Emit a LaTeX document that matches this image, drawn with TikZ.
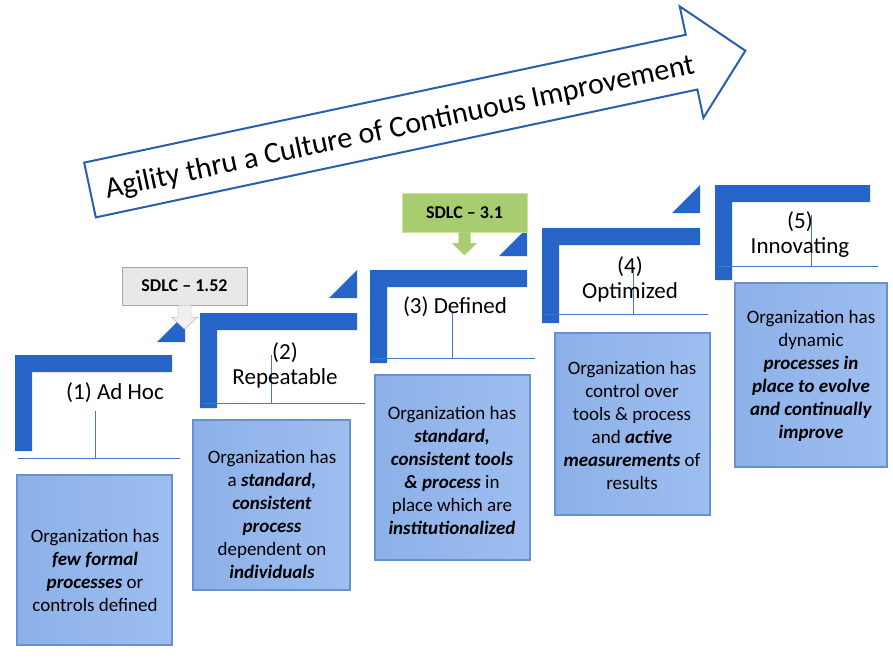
\documentclass[tikz,border=0pt]{standalone}
\usepackage{fontspec}
\setmainfont{Carlito}
\definecolor{stepblue}{RGB}{38,100,200}
\definecolor{thinblue}{RGB}{70,120,200}
\definecolor{boxblue}{RGB}{140,176,232}
\definecolor{boxlight}{RGB}{158,190,240}
\definecolor{boxedge}{RGB}{105,145,205}
\definecolor{arrowblue}{RGB}{40,95,175}
\definecolor{sdlcgreen}{RGB}{168,204,112}
\definecolor{sdlcgreenedge}{RGB}{205,228,150}
\definecolor{sdlcgray}{RGB}{232,232,232}
\newcommand{\emphb}[1]{\textbf{\textit{#1}}}
\tikzset{
  level/.style={font=\fontsize{23}{25}\selectfont, align=center, inner sep=0},
  descbox/.style={draw=boxedge, line width=1.2, left color=boxblue, right color=boxlight, inner sep=0},
  desc/.style={font=\fontsize{19}{23}\selectfont, align=center, inner sep=0},
  sdlc/.style={font=\fontsize{18}{20}\selectfont\bfseries, minimum width=125, minimum height=38, inner sep=0},
}
\begin{document}
\begin{tikzpicture}[x=1pt,y=-1pt]
\useasboundingbox (0,0) rectangle (893,661);

% big arrow across the top
\begin{scope}[shift={(90,190)},rotate=12]
\draw[arrowblue,line width=2,fill=white,line join=miter] (0,-28) -- (615,-28) -- (615,-57) -- (670,0) -- (615,57) -- (615,28) -- (0,28) -- cycle;
\node[font=\fontsize{30}{32}\selectfont, rotate=12, inner sep=0] (title) at (316,4) {Agility thru a Culture of Continuous Improvement};
\end{scope}

% stairs: left x / top y / right x / foot of upright / rule y / stem x / stem top
\foreach \lx/\ty/\rx/\by/\ry/\sx/\st in {15/355/172/451/458/95/411, 200/313/357/408/403/271/355, 370/270/527/363/358/452/312, 542/228/700/323/314/633/267, 715/185/870/280/266/811/215}{
  \fill[stepblue] (\lx,\ty) -- (\rx,\ty) -- (\rx,\ty+17) -- (\lx+17,\ty+17) -- (\lx+17,\by) -- (\lx,\by) -- cycle;
  \draw[thinblue] (\lx+3,\ry) -- (\rx+8,\ry);
  \draw[thinblue] (\sx,\st) -- (\sx,\ry);
}
\foreach \tx/\tb in {185/342, 357/298, 527/256, 700/213}
  \fill[stepblue] (\tx-28,\tb) -- (\tx,\tb) -- (\tx,\tb-28) -- cycle;

\node[level] (adhoc) at (115,393) {(1) Ad Hoc};
\node[level] (repeat) at (285,365) {(2)\\Repeatable};
\node[level] (defined) at (455,307) {(3) Defined};
\node[level] (optim) at (630,279) {(4)\\Optimized};
\node[level] (innov) at (800,235) {(5)\\Innovating};

% description boxes
\node[descbox, minimum width=155, minimum height=170] (b1) at (94.5,560) {};
\node[descbox, minimum width=157, minimum height=170] (b2) at (271.5,505) {};
\node[descbox, minimum width=155, minimum height=185] (b3) at (452.5,467.5) {};
\node[descbox, minimum width=155, minimum height=182] (b4) at (632.5,424) {};
\node[descbox, minimum width=152, minimum height=184] (b5) at (811,375) {};

\node[desc] (t1) at (95,570) {Organization has\\\emphb{few formal}\\\emphb{processes} or\\controls defined};
\node[desc] (t2) at (272,514) {Organization has\\a \emphb{standard,}\\\emphb{consistent}\\\emphb{process}\\dependent on\\\emphb{individuals}};
\node[desc] (t3) at (452,470) {Organization has\\\emphb{standard,}\\\emphb{consistent tools}\\\emphb{\& process} in\\place which are\\\emphb{institutionalized}};
\node[desc] (t4) at (632,425) {Organization has\\control over\\tools \& process\\and \emphb{active}\\\emphb{measurements} of\\results};
\node[desc] (t5) at (811,376) {Organization has\\dynamic\\\emphb{processes in}\\\emphb{place to evolve}\\\emphb{and continually}\\\emphb{improve}};

% SDLC call-outs
\node[sdlc, fill=sdlcgray, draw=gray!70] (sdlcA) at (184.5,286) {SDLC -- 1.52};
\draw[draw=gray!70, fill=gray!12] ([xshift=-6.5pt]sdlcA.south) -- ++(0,12) -- ++(-6.5,0) -- ++(13,12) -- ++(13,-12) -- ++(-6.5,0) -- ++(0,-12) -- cycle;
\node[sdlc, minimum height=39, fill=sdlcgreen, draw=sdlcgreenedge] (sdlcB) at (464.5,212.5) {SDLC -- 3.1};
\draw[draw=sdlcgreenedge, fill=sdlcgreen] ([xshift=-6pt]sdlcB.south) -- ++(0,11) -- ++(-6.5,0) -- ++(12.5,12) -- ++(12.5,-12) -- ++(-6.5,0) -- ++(0,-11) -- cycle;
\end{tikzpicture}
\end{document}
